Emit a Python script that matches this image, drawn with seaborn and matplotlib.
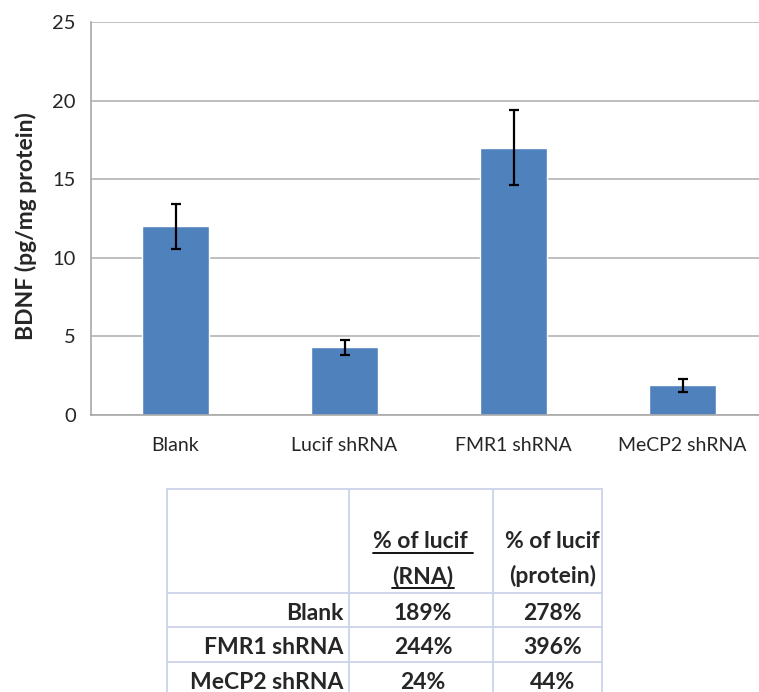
import matplotlib
matplotlib.use("Agg")
import matplotlib.pyplot as plt
import seaborn as sns
import pandas as pd

# bar chart data
groups = ["Blank", "Lucif shRNA", "FMR1 shRNA", "MeCP2 shRNA"]
bdnf = [12.0, 4.3, 17.0, 1.9]
bdnf_err = [1.45, 0.5, 2.4, 0.42]

# table data
tbl_rows = ["Blank", "FMR1 shRNA", "MeCP2 shRNA"]
tbl_rna = ["189%", "244%", "24%"]
tbl_protein = ["278%", "396%", "44%"]
head_rna = ["% of lucif ", "(RNA)"]
head_protein = ["% of lucif", "(protein)"]

sns.set_style("white")
plt.rcParams['font.family'] = ['Lato', 'DejaVu Sans']

bar_col = "#4f81bd"
grid_col = "#bfbfbf"
tbl_col = "#cbd3ea"

df = pd.DataFrame({"group": groups, "bdnf": bdnf, "err": bdnf_err})

fig = plt.figure(figsize=(7.59, 6.92), dpi=100)
W, H = 759, 692
ax = fig.add_axes([91 / W, 277 / H, 676 / W, 393 / H])

sns.barplot(data=df, x="group", y="bdnf", color=bar_col, width=0.4,
            saturation=1, errorbar=None, ax=ax, zorder=2)
ax.errorbar(range(len(groups)), df["bdnf"], yerr=df["err"], fmt="none",
            ecolor="black", elinewidth=1.6, capsize=3.6, capthick=1.6, zorder=3)

ax.set_xlim(-0.5, 3.5)
ax.set_ylim(0, 25)
ax.set_yticks([0, 5, 10, 15, 20, 25])
ax.grid(axis="y", color=grid_col, lw=1.4)
ax.set_axisbelow(True)
for s in ["top", "right"]:
    ax.spines[s].set_visible(False)
for s in ["left", "bottom"]:
    ax.spines[s].set_color("#a8a8a8")
    ax.spines[s].set_linewidth(1.2)

ax.set_xticks([-0.5, 0.5, 1.5, 2.5, 3.5], minor=True)
ax.tick_params(axis="x", which="major", length=0, pad=16, labelsize=14)
ax.tick_params(axis="x", which="minor", length=5, width=1.2, color="#a8a8a8")
ax.tick_params(axis="y", length=5, width=1.2, color="#a8a8a8", pad=6, labelsize=14.5)

ax.set_xlabel("")
ax.set_ylabel("BDNF (pg/mg protein)", fontsize=16.5, fontweight="bold")
ax.yaxis.set_label_coords(-0.08, 0.48)

# table below the chart (overlay axes in pixel units)
tax = fig.add_axes([0, 0, 1, 1])
tax.set_xlim(0, W)
tax.set_ylim(H, 0)
tax.axis("off")

x0, x1, x2, x3 = 167, 349, 493, 602
y_top, y_head = 489, 593
row_h = 34.3
for y in [y_top, y_head, y_head + row_h, y_head + 2 * row_h]:
    tax.plot([x0, x3], [y, y], color=tbl_col, lw=1.3)
for x in [x0, x1, x2, x3]:
    tax.plot([x, x], [y_top, H + 5], color=tbl_col, lw=1.3)

fs = 16.5
c1 = (x1 + x2) / 2 + 2
c2 = (x2 + x3) / 2 + 5
head_txt = []
for i, (a, b) in enumerate(zip(head_rna, head_protein)):
    yy = 548 + i * 35
    head_txt.append(tax.text(c1, yy, a, ha="center", va="baseline",
                             fontsize=fs, fontweight="bold"))
    tax.text(c2, yy, b, ha="center", va="baseline", fontsize=fs, fontweight="bold")

for i, (r, v1, v2) in enumerate(zip(tbl_rows, tbl_rna, tbl_protein)):
    yy = 620 + row_h * i
    tax.text(x1 - 6, yy, r, ha="right", va="baseline", fontsize=fs, fontweight="bold")
    tax.text(c1, yy, v1, ha="center", va="baseline", fontsize=fs, fontweight="bold")
    tax.text(c2, yy, v2, ha="center", va="baseline", fontsize=fs, fontweight="bold")

# underline the RNA header, a few px below the baseline
fig.canvas.draw()
inv = tax.transData.inverted()
for t in head_txt:
    bb = t.get_window_extent()
    bx0, _ = inv.transform((bb.x0, 0))
    bx1, _ = inv.transform((bb.x1, 0))
    uy = t.get_position()[1] + 5
    tax.plot([bx0, bx1], [uy, uy], color="black", lw=1.3)

plt.savefig("out.png", dpi=100)
